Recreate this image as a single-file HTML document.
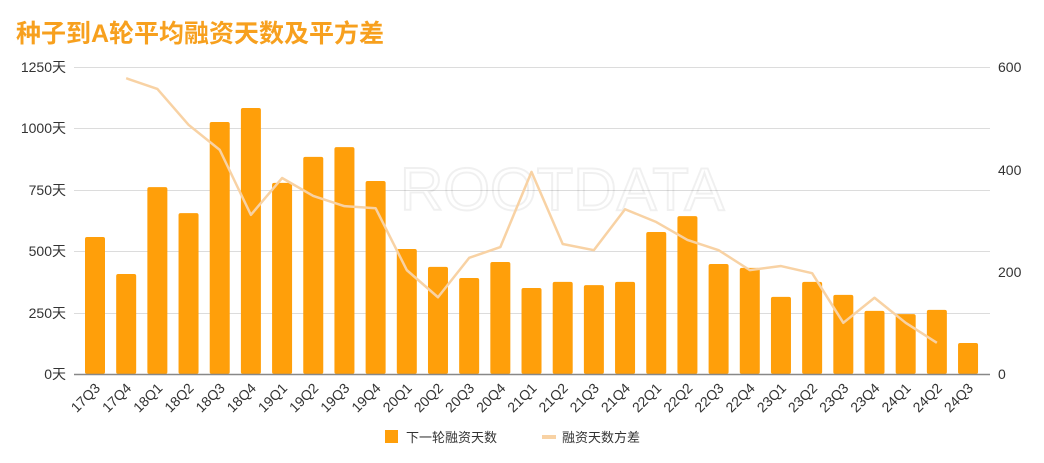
<!DOCTYPE html>
<html><head><meta charset="utf-8"><style>
body{margin:0;background:#fff;}
svg text{font-family:"Liberation Sans","Noto Sans CJK SC",sans-serif;}
</style></head><body>
<svg width="1044" height="458" viewBox="0 0 1044 458" xmlns="http://www.w3.org/2000/svg">
<text x="16" y="42" font-size="25" font-weight="bold" fill="#F7A01E" font-family="'Liberation Sans','Noto Sans CJK SC',sans-serif">种子到A轮平均融资天数及平方差</text>
<g stroke="#dcdcdc" stroke-width="1">
<line x1="74" x2="990" y1="67.5" y2="67.5"/>
<line x1="74" x2="990" y1="128.5" y2="128.5"/>
<line x1="74" x2="990" y1="190.5" y2="190.5"/>
<line x1="74" x2="990" y1="251.5" y2="251.5"/>
<line x1="74" x2="990" y1="313.5" y2="313.5"/>
</g>
<text x="400" y="210" font-size="60" fill="none" stroke="#000" stroke-opacity="0.06" stroke-width="2">ROOTDATA</text>
<g font-size="14" fill="#333" text-anchor="end">
<text x="66" y="72">1250天</text><text x="66" y="133">1000天</text><text x="66" y="195">750天</text>
<text x="66" y="256">500天</text><text x="66" y="318">250天</text><text x="66" y="379">0天</text>
</g>
<g font-size="14" fill="#333">
<text x="998" y="72">600</text><text x="998" y="175">400</text><text x="998" y="277">200</text><text x="998" y="379">0</text>
</g>
<g id="bars" fill="#FF9F0A"></g>
<line x1="74" x2="990" y1="374.5" y2="374.5" stroke="#888" stroke-width="1.5"/>
<polyline id="ln" fill="none" stroke="#F8D2A4" stroke-width="2.5" stroke-linejoin="round"/>
<g id="labs" font-size="14" fill="#333" text-anchor="end"></g>
<rect x="385" y="430" width="13" height="13" fill="#FF9F0A"/>
<text x="406" y="442" font-size="13" fill="#333">下一轮融资天数</text>
<rect x="542" y="435" width="14" height="4" fill="#F8D2A4"/>
<text x="562" y="442" font-size="13" fill="#333">融资天数方差</text>
</svg>
<script>
var cats=["17Q3","17Q4","18Q1","18Q2","18Q3","18Q4","19Q1","19Q2","19Q3","19Q4","20Q1","20Q2","20Q3","20Q4","21Q1","21Q2","21Q3","21Q4","22Q1","22Q2","22Q3","22Q4","23Q1","23Q2","23Q3","23Q4","24Q1","24Q2","24Q3"];
var b=[558,407,761,655,1026,1083,778,884,924,786,509,436,391,456,350,375,362,375,578,643,448,432,314,375,322,257,244,261,126];
var l=[null,578,557,487,438,311,383,348,328,324,203,150,227,248,395,254,242,322,297,262,242,203,211,197,100,149,100,61,null];
var ns="http://www.w3.org/2000/svg",g=document.getElementById("bars"),lb=document.getElementById("labs"),pts=[];
for(var i=0;i<cats.length;i++){var cx=95+i*31.18;var h=b[i]*0.2456;
var r=document.createElementNS(ns,"rect");r.setAttribute("x",cx-10);r.setAttribute("y",374-h);r.setAttribute("width",20);r.setAttribute("height",h);r.setAttribute("rx",2);g.appendChild(r);
var t=document.createElementNS(ns,"text");t.setAttribute("transform","translate("+(cx+6)+",389) rotate(-45)");t.textContent=cats[i];lb.appendChild(t);
if(l[i]!=null)pts.push(cx+","+(374-l[i]*0.5117));}
document.getElementById("ln").setAttribute("points",pts.join(" "));
</script>
</body></html>
